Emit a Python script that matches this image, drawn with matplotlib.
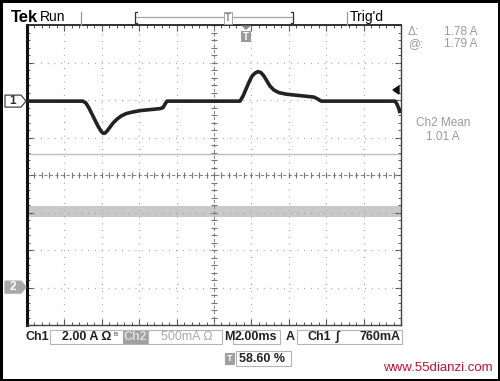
import matplotlib
matplotlib.use("Agg")
import matplotlib.pyplot as plt
from matplotlib.patches import Rectangle, Polygon
import numpy as np

# --- scope settings ---
ms_per_div = 2.0
ch1_a_per_div = 2.0
ch2_a_per_div = 0.5
ch1_offset_div = 1.97      # ground marker "1"
ch2_offset_div = -2.99     # ground marker "2"
trig_pos = 0.586           # 58.60 %
cursor_div = 0.56          # grey cursor line

# --- Ch1 current (ms, A) ---
t_ch1 = [0.0, 2.995, 3.155, 3.316, 3.476, 3.636, 3.797, 3.957, 4.064, 4.171,
         4.278, 4.439, 4.599, 4.813, 5.027, 5.294, 5.615, 6.043, 6.578, 7.112,
         7.273, 7.380, 7.487, 11.390, 11.551, 11.711, 11.872, 12.032, 12.193,
         12.353, 12.513, 12.674, 12.834, 12.995, 13.209, 13.476, 13.850, 14.332,
         14.866, 15.348, 15.561, 15.722, 19.679, 19.786, 19.893, 19.947]
i_ch1 = [0.0, 0.0, -0.107, -0.373, -0.693, -1.013, -1.333, -1.600, -1.707, -1.707,
         -1.600, -1.387, -1.173, -0.960, -0.800, -0.667, -0.587, -0.507, -0.453,
         -0.400, -0.347, -0.160, 0.0, 0.0, 0.267, 0.640, 1.013, 1.333, 1.493,
         1.573, 1.520, 1.333, 1.067, 0.800, 0.587, 0.453, 0.373, 0.320,
         0.267, 0.213, 0.107, 0.0, 0.0, -0.160, -0.427, -0.640]

# --- Ch2 current: flat with ripple ---
ch2_mean = 1.01
ch2_ripple = 0.075

W, H = 500, 381


def fx(x):
    return x / W


def fy(y):
    return 1 - y / H


fig = plt.figure(figsize=(5.0, 3.81), dpi=100)
fig.patch.set_facecolor("white")
fig.patch.set_edgecolor("black")
fig.patch.set_linewidth(2.5)
plt.rcParams["font.family"] = ["Liberation Sans", "DejaVu Sans"]

ax = fig.add_axes([fx(27), fy(325), 374 / W, 300 / H])
ax.set_xlim(0, 10 * ms_per_div)
ax.set_ylim(-4, 4)

# grid dots
dot = dict(color="#9a9a9a", lw=0.9, ls=(0, (0.7, 4.7)), zorder=2)
for k in range(1, 10):
    if k != 5:
        ax.axvline(k * ms_per_div, **dot)
for k in range(-3, 4):
    if k != 0:
        ax.axhline(k, **dot)

# center cross with minor ticks
ax.axhline(0, color="#8a8a8a", lw=0.8, ls=(0, (3, 2)), zorder=2)
ax.axvline(5 * ms_per_div, color="#8a8a8a", lw=0.8, ls=(0, (3, 2)), zorder=2)
mx = np.arange(0, 10.01, 0.2) * ms_per_div
my = np.arange(-4, 4.01, 0.2)
ax.plot(mx, np.zeros_like(mx), ls="none", marker="|", ms=4.5, mew=0.8,
        color="#777777", zorder=2)
ax.plot(np.full_like(my, 5 * ms_per_div), my, ls="none", marker="_", ms=4.5,
        mew=0.8, color="#777777", zorder=2)

# cursor line
ax.axhline(cursor_div, color="#bdbdbd", lw=1.0, zorder=2)

# Ch2 trace (grey band)
t2 = [0, 10 * ms_per_div]
c2 = ch2_offset_div + ch2_mean / ch2_a_per_div
r2 = ch2_ripple / ch2_a_per_div
ax.fill_between(t2, [c2 - r2] * 2, [c2 + r2] * 2, color="#c9c9c9", lw=0, zorder=1)

# Ch1 trace
y1 = [ch1_offset_div + v / ch1_a_per_div for v in i_ch1]
ax.plot(t_ch1, y1, color="#222222", lw=2.6, solid_joinstyle="round",
        solid_capstyle="butt", zorder=3)

# frame ticks
ax.set_xticks(np.arange(0, 10.01, 1) * ms_per_div)
ax.set_yticks(np.arange(-4, 4.01, 1))
ax.set_xticks(mx, minor=True)
ax.set_yticks(my, minor=True)
ax.tick_params(which="both", direction="in", top=True, right=True,
               labelbottom=False, labelleft=False, color="#555555")
ax.tick_params(which="major", length=4, width=0.8)
ax.tick_params(which="minor", length=2.5, width=0.7)
for s in ax.spines.values():
    s.set_color("#444444")
    s.set_linewidth(1.0)
ax.spines["left"].set_color("#111111")
ax.spines["left"].set_linewidth(2.2)
ax.spines["top"].set_color("#222222")
ax.spines["top"].set_linewidth(1.3)

# ground markers
def marker(yc, label, fill, edge, tcol):
    pts = [(fx(5), fy(yc - 6)), (fx(21), fy(yc - 6)), (fx(26), fy(yc)),
           (fx(21), fy(yc + 6)), (fx(5), fy(yc + 6))]
    fig.add_artist(Polygon(pts, closed=True, fc=fill, ec=edge, lw=0.9,
                           transform=fig.transFigure))
    fig.text(fx(13), fy(yc), label, color=tcol, fontsize=8.5,
             ha="center", va="center", weight="bold")


marker(175 - ch1_offset_div * 37.5, "1", "white", "#444444", "#333333")
marker(175 - ch2_offset_div * 37.5, "2", "#a8a8a8", "#a8a8a8", "white")

# trigger level arrow on right
fig.add_artist(Polygon([(fx(393), fy(90)), (fx(399), fy(86)), (fx(399), fy(94))],
                       closed=True, fc="#111111", ec="#111111",
                       transform=fig.transFigure))

# trigger position marker below top edge
tx = 27 + trig_pos * 374
fig.add_artist(Polygon([(fx(tx - 5), fy(25.5)), (fx(tx + 5), fy(25.5)),
                        (fx(tx), fy(30))], closed=True, fc="#8a8a8a", ec="none",
                       transform=fig.transFigure))
fig.add_artist(Rectangle((fx(tx - 5), fy(42)), 10 / W, 11 / H, fc="#9a9a9a",
                         ec="none", transform=fig.transFigure))
fig.text(fx(tx), fy(36.5), "T", color="white", fontsize=7, weight="bold",
         ha="center", va="center")

# top status bar
fig.text(fx(11), fy(17), "Tek", fontsize=12, weight="bold", va="center")
fig.text(fx(40), fy(17), "Run", fontsize=10, va="center")
fig.text(fx(350), fy(17), "Trig'd", fontsize=10, va="center")
for xv in (81, 347):
    fig.add_artist(plt.Line2D([fx(xv)] * 2, [fy(12), fy(25)], color="#999999",
                              lw=0.9, transform=fig.transFigure))
fig.add_artist(plt.Line2D([fx(135), fx(293)], [fy(17)] * 2, color="#aaaaaa",
                          lw=1.0, transform=fig.transFigure))
fig.add_artist(plt.Line2D([fx(137), fx(135), fx(135), fx(137)],
                          [fy(12), fy(12), fy(23), fy(23)], color="#333333",
                          lw=0.9, transform=fig.transFigure))
fig.add_artist(plt.Line2D([fx(291), fx(293), fx(293), fx(291)],
                          [fy(12), fy(12), fy(23), fy(23)], color="#333333",
                          lw=0.9, transform=fig.transFigure))
bx = 135 + trig_pos * 158
fig.text(fx(bx), fy(18), "T", fontsize=7, color="#888888", ha="center",
         va="center", weight="bold",
         bbox=dict(boxstyle="square,pad=0.1", fc="white", ec="#999999", lw=0.6))

# right readouts
grey = "#9a9a9a"
fig.text(fx(408), fy(32), "\u0394:", color=grey, fontsize=8.5, va="center")
fig.text(fx(478), fy(32), "1.78 A", color=grey, fontsize=8.5, va="center", ha="right")
fig.text(fx(408), fy(44), "@:", color=grey, fontsize=8.5, va="center")
fig.text(fx(478), fy(44), "1.79 A", color=grey, fontsize=8.5, va="center", ha="right")
fig.text(fx(443), fy(123), "Ch2 Mean", color=grey, fontsize=8.5, va="center", ha="center")
fig.text(fx(443), fy(137), "1.01 A", color=grey, fontsize=8.5, va="center", ha="center")

# bottom readouts
def box(x0, x1, y0, y1, fc="none", ec="#b5b5b5"):
    fig.add_artist(Rectangle((fx(x0), fy(y1)), (x1 - x0) / W, (y1 - y0) / H,
                             fc=fc, ec=ec, lw=0.8, transform=fig.transFigure))


yb = 337
fig.text(fx(26), fy(yb), "Ch1", fontsize=9, weight="bold", va="center", color="#222222")
box(50, 148, 330, 344)
fig.text(fx(62), fy(yb), "2.00 A \u03a9", fontsize=9, weight="bold", va="center",
         color="#222222")
fig.text(fx(114), fy(yb - 2), "B", fontsize=4.5, va="center", color="#333333")
box(123, 147, 331, 343, fc="#a0a0a0", ec="#a0a0a0")
fig.text(fx(135), fy(yb), "Ch2", fontsize=9, weight="bold", va="center",
         ha="center", color="#dddddd")
box(148, 222, 330, 344)
fig.text(fx(161), fy(yb), "500mA \u03a9", fontsize=9, va="center", color="#aaaaaa")
fig.text(fx(224), fy(yb), "M", fontsize=9, weight="bold", va="center", color="#222222")
box(233, 280, 330, 344)
fig.text(fx(235), fy(yb), "2.00ms", fontsize=9, weight="bold", va="center",
         color="#222222")
fig.text(fx(286), fy(yb), "A", fontsize=9, weight="bold", va="center", color="#222222")
box(297, 402, 330, 344)
fig.text(fx(307), fy(yb), "Ch1", fontsize=9, weight="bold", va="center", color="#222222")
fig.text(fx(336), fy(yb), "\u222b", fontsize=9, weight="bold", va="center",
         color="#222222")
fig.text(fx(400), fy(yb), "760mA", fontsize=9, weight="bold", va="center",
         ha="right", color="#222222")

# trigger position readout
box(225, 234, 353, 364, fc="#a0a0a0", ec="#a0a0a0")
fig.text(fx(229.5), fy(358.5), "T", fontsize=6.5, weight="bold", color="white",
         ha="center", va="center")
box(236, 291, 351, 366)
fig.text(fx(239), fy(358.5), "58.60 %", fontsize=9, weight="bold", va="center",
         color="#222222")

# watermark
fig.text(fx(493), fy(368), "www.55dianzi.com", fontsize=9.5, color="#c8102e",
         ha="right", va="center")

fig.savefig("out.png", dpi=100)
